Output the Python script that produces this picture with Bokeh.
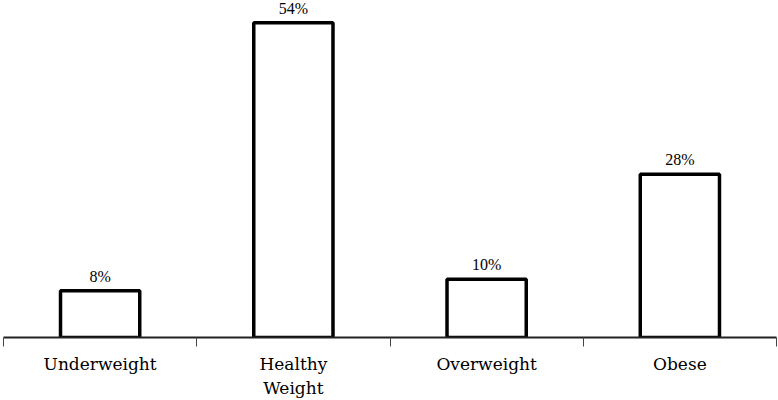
from bokeh.plotting import figure
from bokeh.models import ColumnDataSource, FixedTicker, LabelSet, Range1d
from bokeh.embed import file_html
from bokeh.resources import INLINE

categories = ["Underweight", "Healthy\nWeight", "Overweight", "Obese"]
percent = [8, 54, 10, 28]
labels = ["8%", "54%", "10%", "28%"]

xpos = [i + 0.5 for i in range(len(categories))]
src = ColumnDataSource(dict(x=xpos, top=percent, label=labels))

FONT = "DejaVu Serif"

p = figure(width=778, height=400, output_backend="svg", toolbar_location=None,
           x_range=Range1d(0, 4), y_range=Range1d(0, 57.8),
           min_border_left=3, min_border_right=2, min_border_top=0, min_border_bottom=62)
p.vbar(x="x", top="top", width=0.41, bottom=0, source=src,
       fill_color="white", line_color="black", line_width=3.5)

p.add_layout(LabelSet(x="x", y="top", text="label", source=src,
                      text_align="center", text_baseline="bottom", y_offset=6,
                      text_font=FONT, text_font_size="16px", text_color="black"))

p.xaxis.ticker = FixedTicker(ticks=xpos, minor_ticks=[0, 1, 2, 3, 4])
p.xaxis.major_label_overrides = {x: c for x, c in zip(xpos, categories)}
p.xaxis.major_tick_out = 0
p.xaxis.major_tick_in = 0
p.xaxis.minor_tick_out = 9
p.xaxis.minor_tick_in = 0
p.xaxis.minor_tick_line_color = "#444444"
p.xaxis.minor_tick_line_width = 1
p.xaxis.axis_line_width = 2
p.xaxis.axis_line_color = "#222222"
p.xaxis.major_label_standoff = 7
p.xaxis.major_label_text_font = FONT
p.xaxis.major_label_text_font_size = "17px"
p.xaxis.major_label_text_color = "black"
p.yaxis.visible = False
p.xgrid.visible = False
p.ygrid.visible = False
p.outline_line_color = None

open("out.html", "w").write(file_html(p, INLINE))
